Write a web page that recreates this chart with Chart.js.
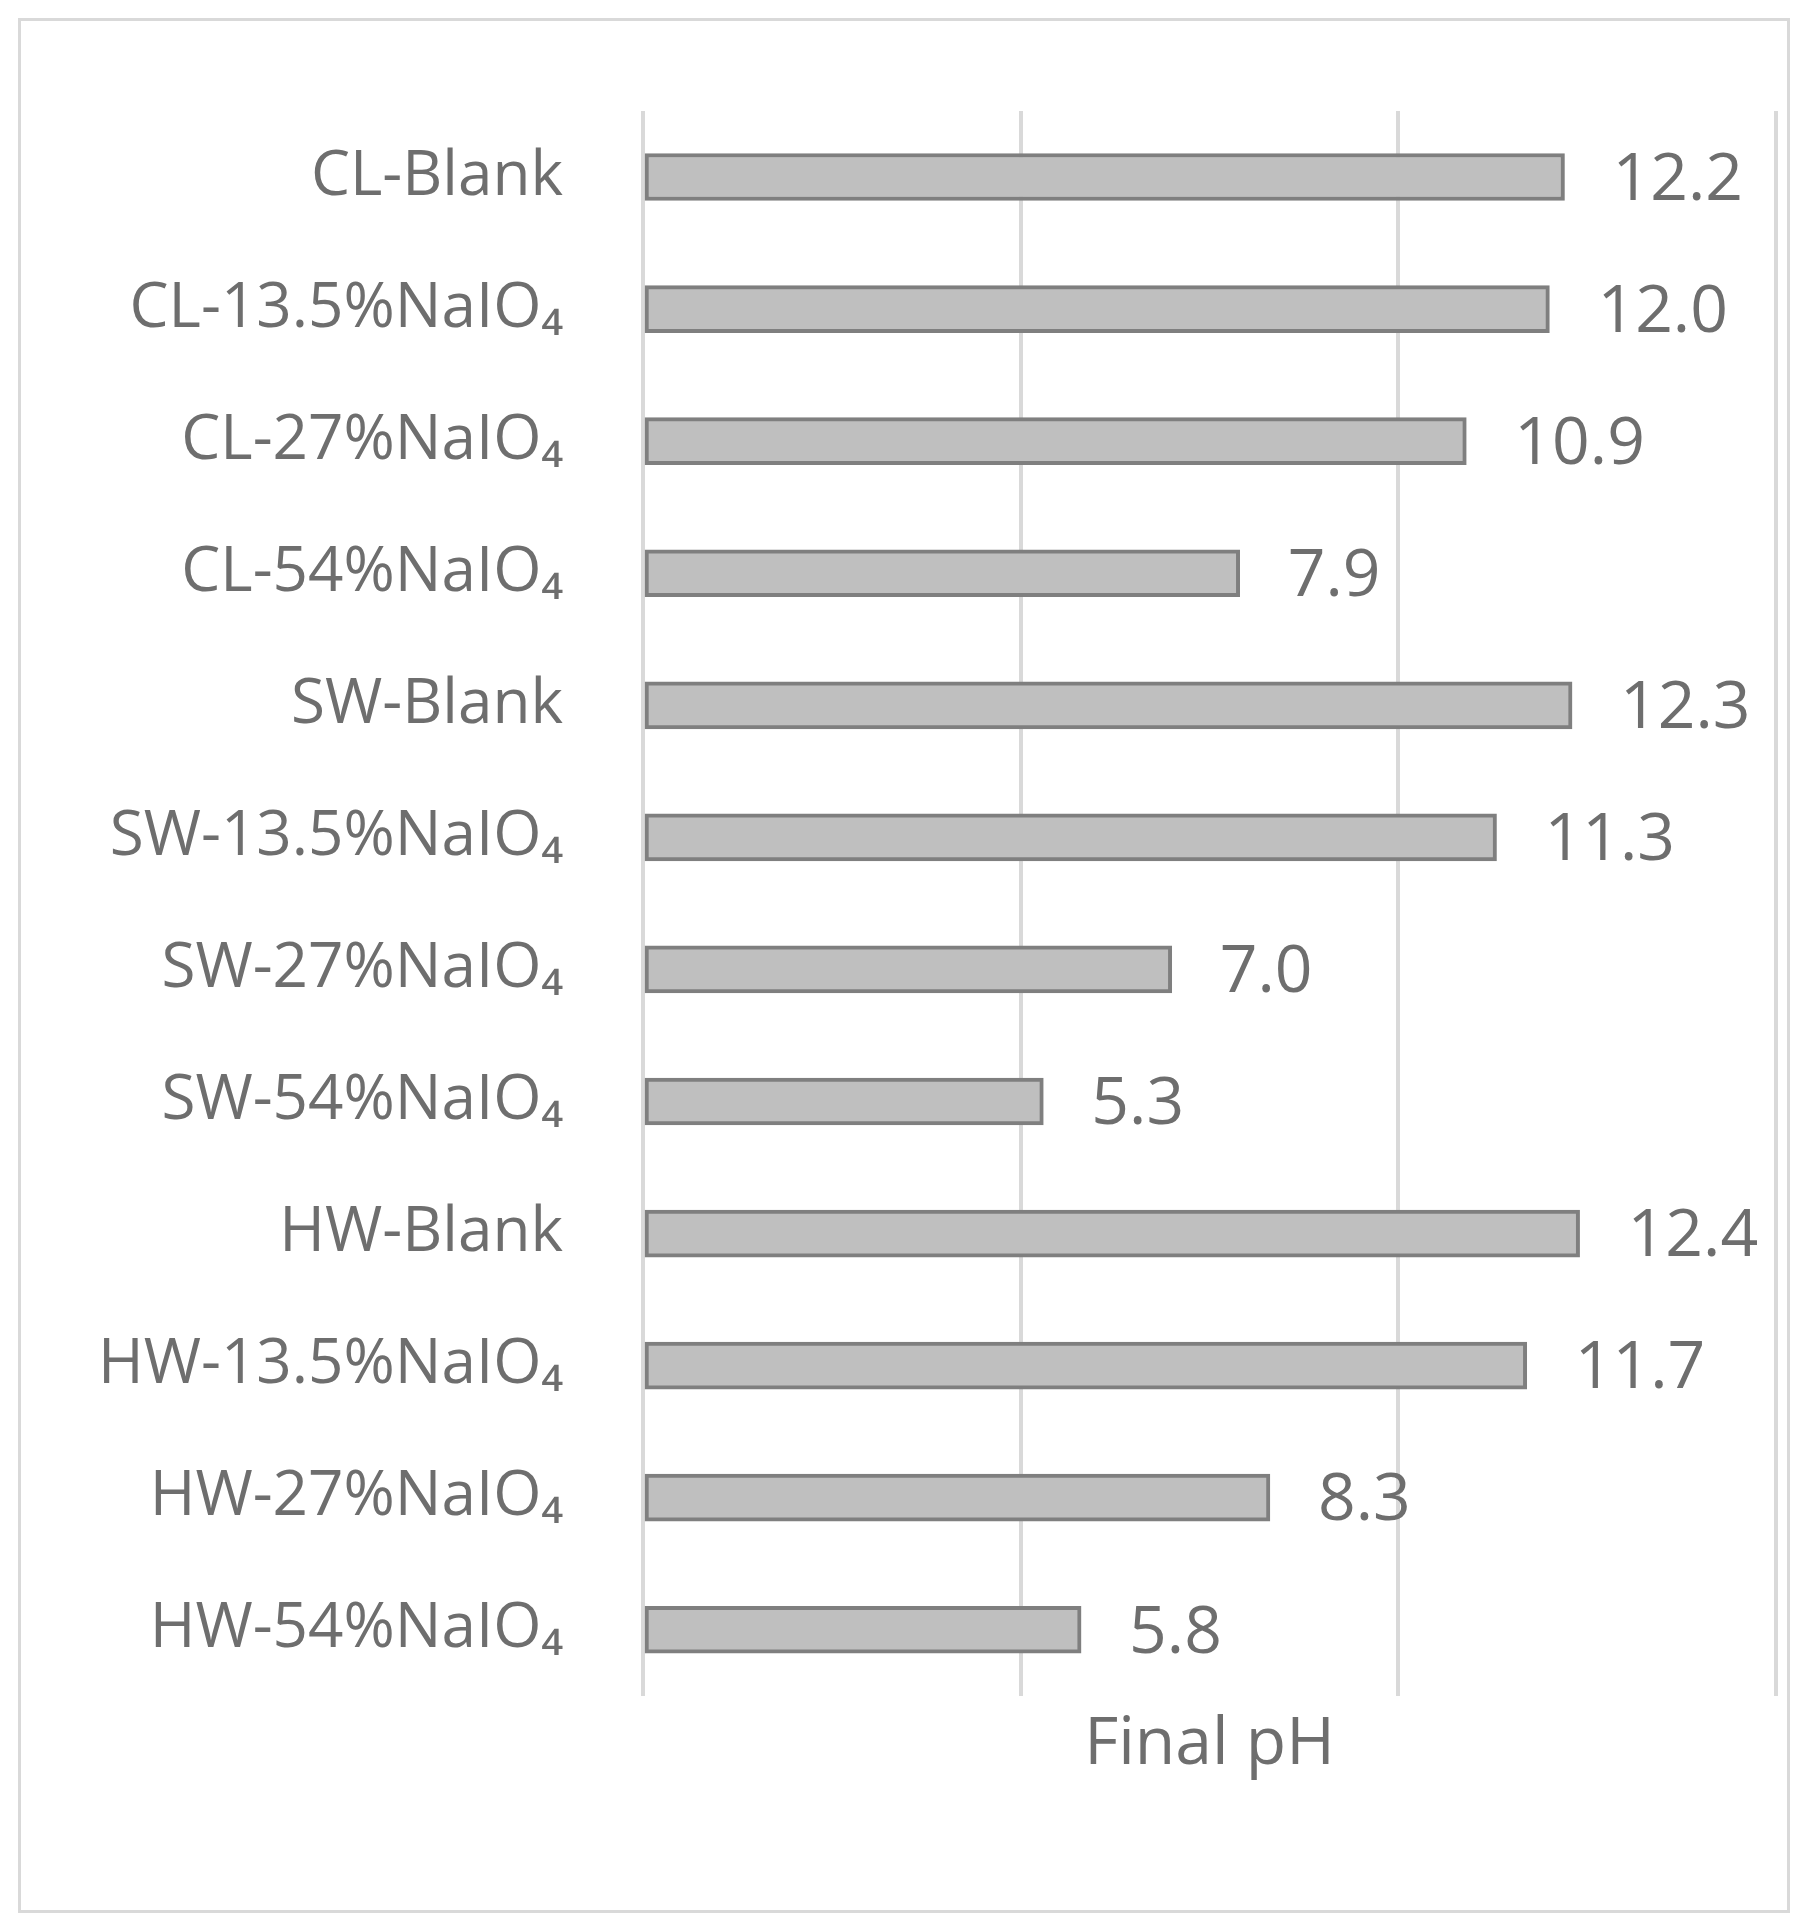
<!DOCTYPE html>
<html>
<head>
<meta charset="utf-8">
<script src="https://cdn.jsdelivr.net/npm/chart.js@4"></script>
<style>
  body { margin: 0; background: #fff; }
  #wrap { position: relative; width: 1807px; height: 1925px; }
  #frame { position: absolute; left: 18px; top: 18px; width: 1766px; height: 1889px; border: 3px solid #d9d9d9; }
  canvas { position: absolute; left: 0; top: 0; }
</style>
</head>
<body>
<div id="wrap">
  <div id="frame"></div>
  <canvas id="chart" width="1807" height="1925"></canvas>
</div>
<script>
const categories = [
  'CL-Blank', 'CL-13.5%NaIO₄', 'CL-27%NaIO₄', 'CL-54%NaIO₄',
  'SW-Blank', 'SW-13.5%NaIO₄', 'SW-27%NaIO₄', 'SW-54%NaIO₄',
  'HW-Blank', 'HW-13.5%NaIO₄', 'HW-27%NaIO₄', 'HW-54%NaIO₄'
]
const finalPH = [12.2, 12.0, 10.9, 7.9, 12.3, 11.3, 7.0, 5.3, 12.4, 11.7, 8.3, 5.8]
const xTicks = [0, 5, 10, 15]

const textColor = '#6e6e6e'
const fontFamily = "'Open Sans', 'Noto Sans', sans-serif"

// value labels at the end of each bar
const barLabels = {
    id: 'barLabels',
    afterDatasetsDraw(chart) {
        const ctx = chart.ctx
        const meta = chart.getDatasetMeta(0)
        ctx.save()
        ctx.fillStyle = textColor
        ctx.font = '66px ' + fontFamily
        ctx.textAlign = 'left'
        ctx.textBaseline = 'middle'
        meta.data.forEach((bar, i) => {
            ctx.fillText(finalPH[i].toFixed(1), bar.x + 48, bar.y + 4)
        })
        ctx.restore()
    }
}

Chart.defaults.font.family = fontFamily
Chart.defaults.color = textColor

new Chart(document.getElementById('chart').getContext('2d'), {
    type: 'bar',
    data: {
        labels: categories,
        datasets: [{
            data: finalPH,
            backgroundColor: '#bfbfbf',
            borderColor: '#7f7f7f',
            borderWidth: 4,
            borderSkipped: false,
            barThickness: 47
        }]
    },
    options: {
        indexAxis: 'y',
        responsive: false,
        animation: false,
        layout: { padding: { top: 111, right: 31, bottom: 136, left: 0 } },
        scales: {
            x: {
                min: 0,
                max: 15,
                afterBuildTicks: (s) => { s.ticks = xTicks.map(v => ({ value: v })) },
                ticks: { display: false },
                grid: { color: '#d9d9d9', lineWidth: 4, drawTicks: false },
                border: { display: false },
                title: {
                    display: true,
                    text: 'Final pH',
                    font: { size: 66 },
                    color: textColor,
                    padding: { top: 10, bottom: 4 }
                }
            },
            y: {
                grid: { display: false },
                border: { display: false },
                ticks: { font: { size: 62 }, color: textColor, padding: 72 },
                afterFit: (s) => { s.width = 643 }
            }
        },
        plugins: {
            legend: { display: false },
            tooltip: { enabled: false }
        }
    },
    plugins: [barLabels]
})
</script>
</body>
</html>
